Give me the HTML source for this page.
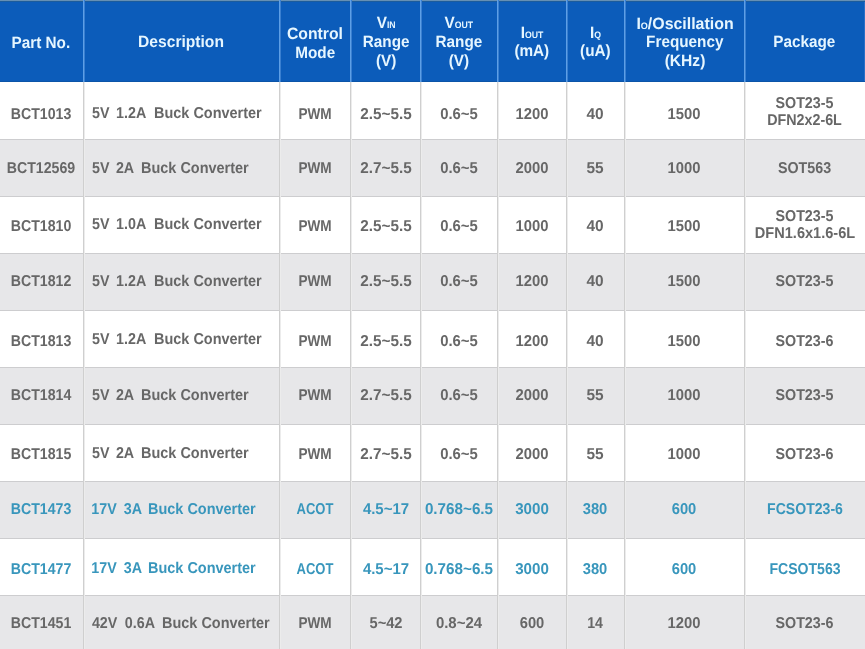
<!DOCTYPE html>
<html><head><meta charset="utf-8"><style>
html,body{margin:0;padding:0;}
body{width:865px;height:649px;overflow:hidden;position:relative;background:#ffffff;font-family:"Liberation Sans",sans-serif;font-weight:bold;}
.a{position:absolute;}
.t{position:absolute;white-space:pre;line-height:1;}
.h{color:#e6f6ff;font-size:15.3px;}
.b{color:#676767;font-size:14.3px;}
.bl{color:#3896bc;}
.sc{font-size:0.57em;}
#w{position:absolute;left:0;top:0;width:865px;height:649px;opacity:0.999;filter:blur(0.3px);text-rendering:geometricPrecision;}
</style></head><body><div id="w">

<div class="a" style="left:0;top:0;width:865px;height:82px;background:#0c5cba"></div>
<div class="a" style="left:0;top:0;width:865px;height:1px;background:#6690b4"></div>
<div class="a" style="left:0;top:1px;width:865px;height:1px;background:#1c5c9c"></div>
<div class="a" style="left:0;top:81px;width:865px;height:1px;background:#0b54a8"></div>
<div class="a" style="left:864px;top:2px;width:1px;height:79px;background:#2a6fc6"></div>
<div class="a" style="left:0;top:140px;width:865px;height:56px;background:#e7e7e9"></div>
<div class="a" style="left:0;top:254px;width:865px;height:56px;background:#e7e7e9"></div>
<div class="a" style="left:0;top:368px;width:865px;height:56px;background:#e7e7e9"></div>
<div class="a" style="left:0;top:482px;width:865px;height:56px;background:#e7e7e9"></div>
<div class="a" style="left:0;top:596px;width:865px;height:53px;background:#e7e7e9"></div>
<div class="a" style="left:0;top:139px;width:865px;height:1px;background:#cdcdcf"></div>
<div class="a" style="left:0;top:196px;width:865px;height:1px;background:#cdcdcf"></div>
<div class="a" style="left:0;top:253px;width:865px;height:1px;background:#cdcdcf"></div>
<div class="a" style="left:0;top:310px;width:865px;height:1px;background:#cdcdcf"></div>
<div class="a" style="left:0;top:367px;width:865px;height:1px;background:#cdcdcf"></div>
<div class="a" style="left:0;top:424px;width:865px;height:1px;background:#cdcdcf"></div>
<div class="a" style="left:0;top:481px;width:865px;height:1px;background:#cdcdcf"></div>
<div class="a" style="left:0;top:538px;width:865px;height:1px;background:#cdcdcf"></div>
<div class="a" style="left:0;top:595px;width:865px;height:1px;background:#cdcdcf"></div>
<div class="a" style="left:83px;top:0px;width:1px;height:82px;background:#5e9fe6"></div>
<div class="a" style="left:84px;top:0px;width:1px;height:82px;background:#3a7fd0"></div>
<div class="a" style="left:83px;top:82px;width:1px;height:567px;background:#cfcfcf"></div>
<div class="a" style="left:84px;top:82px;width:1px;height:567px;background:#ececec"></div>
<div class="a" style="left:279px;top:0px;width:1px;height:82px;background:#5e9fe6"></div>
<div class="a" style="left:280px;top:0px;width:1px;height:82px;background:#3a7fd0"></div>
<div class="a" style="left:279px;top:82px;width:1px;height:567px;background:#cfcfcf"></div>
<div class="a" style="left:280px;top:82px;width:1px;height:567px;background:#ececec"></div>
<div class="a" style="left:350px;top:0px;width:1px;height:82px;background:#5e9fe6"></div>
<div class="a" style="left:351px;top:0px;width:1px;height:82px;background:#3a7fd0"></div>
<div class="a" style="left:350px;top:82px;width:1px;height:567px;background:#cfcfcf"></div>
<div class="a" style="left:351px;top:82px;width:1px;height:567px;background:#ececec"></div>
<div class="a" style="left:420px;top:0px;width:1px;height:82px;background:#5e9fe6"></div>
<div class="a" style="left:421px;top:0px;width:1px;height:82px;background:#3a7fd0"></div>
<div class="a" style="left:420px;top:82px;width:1px;height:567px;background:#cfcfcf"></div>
<div class="a" style="left:421px;top:82px;width:1px;height:567px;background:#ececec"></div>
<div class="a" style="left:497px;top:0px;width:1px;height:82px;background:#5e9fe6"></div>
<div class="a" style="left:498px;top:0px;width:1px;height:82px;background:#3a7fd0"></div>
<div class="a" style="left:497px;top:82px;width:1px;height:567px;background:#cfcfcf"></div>
<div class="a" style="left:498px;top:82px;width:1px;height:567px;background:#ececec"></div>
<div class="a" style="left:566px;top:0px;width:1px;height:82px;background:#5e9fe6"></div>
<div class="a" style="left:567px;top:0px;width:1px;height:82px;background:#3a7fd0"></div>
<div class="a" style="left:566px;top:82px;width:1px;height:567px;background:#cfcfcf"></div>
<div class="a" style="left:567px;top:82px;width:1px;height:567px;background:#ececec"></div>
<div class="a" style="left:624px;top:0px;width:1px;height:82px;background:#5e9fe6"></div>
<div class="a" style="left:625px;top:0px;width:1px;height:82px;background:#3a7fd0"></div>
<div class="a" style="left:624px;top:82px;width:1px;height:567px;background:#cfcfcf"></div>
<div class="a" style="left:625px;top:82px;width:1px;height:567px;background:#ececec"></div>
<div class="a" style="left:744px;top:0px;width:1px;height:82px;background:#5e9fe6"></div>
<div class="a" style="left:745px;top:0px;width:1px;height:82px;background:#3a7fd0"></div>
<div class="a" style="left:744px;top:82px;width:1px;height:567px;background:#cfcfcf"></div>
<div class="a" style="left:745px;top:82px;width:1px;height:567px;background:#ececec"></div>
<div class="t h" style="left:-109.15px;width:300px;text-align:center;top:36.45px;transform-origin:50% 12.95px;transform:scale(1.0,1.07)">Part No.</div>
<div class="t h" style="left:31.40px;width:300px;text-align:center;top:35.45px;transform-origin:50% 12.95px;transform:scale(1.02,1.07)">Description</div>
<div class="t h" style="left:165.10px;width:300px;text-align:center;top:26.95px;transform-origin:50% 12.95px;transform:scale(1.03,1.07)">Control</div>
<div class="t h" style="left:165.20px;width:300px;text-align:center;top:45.85px;transform-origin:50% 12.95px;transform:scale(1.0,1.07)">Mode</div>
<div class="t h" style="left:236.20px;width:300px;text-align:center;top:16.45px;transform-origin:50% 12.95px;transform:scale(1.0,1.07)">V<span class="sc">IN</span></div>
<div class="t h" style="left:236.20px;width:300px;text-align:center;top:35.15px;transform-origin:50% 12.95px;transform:scale(1.0,1.07)">Range</div>
<div class="t h" style="left:236.20px;width:300px;text-align:center;top:53.95px;transform-origin:50% 12.95px;transform:scale(1.0,1.07)">(V)</div>
<div class="t h" style="left:308.90px;width:300px;text-align:center;top:16.45px;transform-origin:50% 12.95px;transform:scale(1.0,1.07)">V<span class="sc">OUT</span></div>
<div class="t h" style="left:308.90px;width:300px;text-align:center;top:35.15px;transform-origin:50% 12.95px;transform:scale(1.0,1.07)">Range</div>
<div class="t h" style="left:308.90px;width:300px;text-align:center;top:53.95px;transform-origin:50% 12.95px;transform:scale(1.0,1.07)">(V)</div>
<div class="t h" style="left:382.00px;width:300px;text-align:center;top:25.85px;transform-origin:50% 12.95px;transform:scale(1.0,1.07)">I<span class="sc">OUT</span></div>
<div class="t h" style="left:381.80px;width:300px;text-align:center;top:43.75px;transform-origin:50% 12.95px;transform:scale(1.0,1.07)">(mA)</div>
<div class="t h" style="left:445.50px;width:300px;text-align:center;top:25.85px;transform-origin:50% 12.95px;transform:scale(1.0,1.07)">I<span class="sc">Q</span></div>
<div class="t h" style="left:445.40px;width:300px;text-align:center;top:43.75px;transform-origin:50% 12.95px;transform:scale(1.0,1.07)">(uA)</div>
<div class="t h" style="left:534.60px;width:300px;text-align:center;top:17.05px;transform-origin:50% 12.95px;transform:scale(1.04,1.07)">I<span class="sc">O</span>/Oscillation</div>
<div class="t h" style="left:534.80px;width:300px;text-align:center;top:35.05px;transform-origin:50% 12.95px;transform:scale(1.0,1.07)">Frequency</div>
<div class="t h" style="left:534.80px;width:300px;text-align:center;top:54.45px;transform-origin:50% 12.95px;transform:scale(1.02,1.07)">(KHz)</div>
<div class="t h" style="left:654.25px;width:300px;text-align:center;top:35.25px;transform-origin:50% 12.95px;transform:scale(1.0,1.07)">Package</div>
<div class="t b" style="left:-109.00px;width:300px;text-align:center;top:108.40px;transform-origin:50% 12.10px;transform:scale(0.99,1.098)">BCT1013</div>
<div class="t b" style="left:92.00px;top:107.20px;transform-origin:0 12.10px;transform:scale(1.0,1.098)">5V</div>
<div class="t b" style="left:116.10px;top:107.20px;transform-origin:0 12.10px;transform:scale(1.0,1.098)">1.2A</div>
<div class="t b" style="left:153.80px;top:107.20px;transform-origin:0 12.10px;transform:scale(1.012,1.098)">Buck Converter</div>
<div class="t b" style="left:164.75px;width:300px;text-align:center;top:108.40px;transform-origin:50% 12.10px;transform:scale(0.95,1.098)">PWM</div>
<div class="t b" style="left:236.45px;width:300px;text-align:center;top:108.40px;transform-origin:50% 12.10px;transform:scale(1.068,1.098)">2.5~5.5</div>
<div class="t b" style="left:309.25px;width:300px;text-align:center;top:108.40px;transform-origin:50% 12.10px;transform:scale(1.04,1.098)">0.6~5</div>
<div class="t b" style="left:382.00px;width:300px;text-align:center;top:108.40px;transform-origin:50% 12.10px;transform:scale(1.037,1.098)">1200</div>
<div class="t b" style="left:445.00px;width:300px;text-align:center;top:108.40px;transform-origin:50% 12.10px;transform:scale(1.08,1.098)">40</div>
<div class="t b" style="left:534.00px;width:300px;text-align:center;top:108.40px;transform-origin:50% 12.10px;transform:scale(1.037,1.098)">1500</div>
<div class="t b" style="left:654.50px;width:300px;text-align:center;top:96.80px;transform-origin:50% 12.10px;transform:scale(1.0,1.098)">SOT23-5</div>
<div class="t b" style="left:654.50px;width:300px;text-align:center;top:113.80px;transform-origin:50% 12.10px;transform:scale(1.0,1.098)">DFN2x2-6L</div>
<div class="t b" style="left:-109.00px;width:300px;text-align:center;top:161.90px;transform-origin:50% 12.10px;transform:scale(0.99,1.098)">BCT12569</div>
<div class="t b" style="left:92.00px;top:161.90px;transform-origin:0 12.10px;transform:scale(1.0,1.098)">5V</div>
<div class="t b" style="left:115.90px;top:161.90px;transform-origin:0 12.10px;transform:scale(1.0,1.098)">2A</div>
<div class="t b" style="left:140.60px;top:161.90px;transform-origin:0 12.10px;transform:scale(1.012,1.098)">Buck Converter</div>
<div class="t b" style="left:164.75px;width:300px;text-align:center;top:161.90px;transform-origin:50% 12.10px;transform:scale(0.95,1.098)">PWM</div>
<div class="t b" style="left:236.45px;width:300px;text-align:center;top:161.90px;transform-origin:50% 12.10px;transform:scale(1.068,1.098)">2.7~5.5</div>
<div class="t b" style="left:309.25px;width:300px;text-align:center;top:161.90px;transform-origin:50% 12.10px;transform:scale(1.04,1.098)">0.6~5</div>
<div class="t b" style="left:382.00px;width:300px;text-align:center;top:161.90px;transform-origin:50% 12.10px;transform:scale(1.037,1.098)">2000</div>
<div class="t b" style="left:445.00px;width:300px;text-align:center;top:161.90px;transform-origin:50% 12.10px;transform:scale(1.08,1.098)">55</div>
<div class="t b" style="left:534.00px;width:300px;text-align:center;top:161.90px;transform-origin:50% 12.10px;transform:scale(1.037,1.098)">1000</div>
<div class="t b" style="left:654.50px;width:300px;text-align:center;top:161.90px;transform-origin:50% 12.10px;transform:scale(1.0,1.098)">SOT563</div>
<div class="t b" style="left:-109.00px;width:300px;text-align:center;top:219.60px;transform-origin:50% 12.10px;transform:scale(0.99,1.098)">BCT1810</div>
<div class="t b" style="left:92.00px;top:218.40px;transform-origin:0 12.10px;transform:scale(1.0,1.098)">5V</div>
<div class="t b" style="left:116.10px;top:218.40px;transform-origin:0 12.10px;transform:scale(1.0,1.098)">1.0A</div>
<div class="t b" style="left:153.80px;top:218.40px;transform-origin:0 12.10px;transform:scale(1.012,1.098)">Buck Converter</div>
<div class="t b" style="left:164.75px;width:300px;text-align:center;top:219.60px;transform-origin:50% 12.10px;transform:scale(0.95,1.098)">PWM</div>
<div class="t b" style="left:236.45px;width:300px;text-align:center;top:219.60px;transform-origin:50% 12.10px;transform:scale(1.068,1.098)">2.5~5.5</div>
<div class="t b" style="left:309.25px;width:300px;text-align:center;top:219.60px;transform-origin:50% 12.10px;transform:scale(1.04,1.098)">0.6~5</div>
<div class="t b" style="left:382.00px;width:300px;text-align:center;top:219.60px;transform-origin:50% 12.10px;transform:scale(1.037,1.098)">1000</div>
<div class="t b" style="left:445.00px;width:300px;text-align:center;top:219.60px;transform-origin:50% 12.10px;transform:scale(1.08,1.098)">40</div>
<div class="t b" style="left:534.00px;width:300px;text-align:center;top:219.60px;transform-origin:50% 12.10px;transform:scale(1.037,1.098)">1500</div>
<div class="t b" style="left:654.50px;width:300px;text-align:center;top:210.40px;transform-origin:50% 12.10px;transform:scale(1.0,1.098)">SOT23-5</div>
<div class="t b" style="left:654.50px;width:300px;text-align:center;top:227.40px;transform-origin:50% 12.10px;transform:scale(1.02,1.098)">DFN1.6x1.6-6L</div>
<div class="t b" style="left:-109.00px;width:300px;text-align:center;top:274.80px;transform-origin:50% 12.10px;transform:scale(0.99,1.098)">BCT1812</div>
<div class="t b" style="left:92.00px;top:274.80px;transform-origin:0 12.10px;transform:scale(1.0,1.098)">5V</div>
<div class="t b" style="left:116.10px;top:274.80px;transform-origin:0 12.10px;transform:scale(1.0,1.098)">1.2A</div>
<div class="t b" style="left:153.80px;top:274.80px;transform-origin:0 12.10px;transform:scale(1.012,1.098)">Buck Converter</div>
<div class="t b" style="left:164.75px;width:300px;text-align:center;top:274.80px;transform-origin:50% 12.10px;transform:scale(0.95,1.098)">PWM</div>
<div class="t b" style="left:236.45px;width:300px;text-align:center;top:274.80px;transform-origin:50% 12.10px;transform:scale(1.068,1.098)">2.5~5.5</div>
<div class="t b" style="left:309.25px;width:300px;text-align:center;top:274.80px;transform-origin:50% 12.10px;transform:scale(1.04,1.098)">0.6~5</div>
<div class="t b" style="left:382.00px;width:300px;text-align:center;top:274.80px;transform-origin:50% 12.10px;transform:scale(1.037,1.098)">1200</div>
<div class="t b" style="left:445.00px;width:300px;text-align:center;top:274.80px;transform-origin:50% 12.10px;transform:scale(1.08,1.098)">40</div>
<div class="t b" style="left:534.00px;width:300px;text-align:center;top:274.80px;transform-origin:50% 12.10px;transform:scale(1.037,1.098)">1500</div>
<div class="t b" style="left:654.50px;width:300px;text-align:center;top:274.80px;transform-origin:50% 12.10px;transform:scale(1.0,1.098)">SOT23-5</div>
<div class="t b" style="left:-109.00px;width:300px;text-align:center;top:334.60px;transform-origin:50% 12.10px;transform:scale(0.99,1.098)">BCT1813</div>
<div class="t b" style="left:92.00px;top:333.40px;transform-origin:0 12.10px;transform:scale(1.0,1.098)">5V</div>
<div class="t b" style="left:116.10px;top:333.40px;transform-origin:0 12.10px;transform:scale(1.0,1.098)">1.2A</div>
<div class="t b" style="left:153.80px;top:333.40px;transform-origin:0 12.10px;transform:scale(1.012,1.098)">Buck Converter</div>
<div class="t b" style="left:164.75px;width:300px;text-align:center;top:334.60px;transform-origin:50% 12.10px;transform:scale(0.95,1.098)">PWM</div>
<div class="t b" style="left:236.45px;width:300px;text-align:center;top:334.60px;transform-origin:50% 12.10px;transform:scale(1.068,1.098)">2.5~5.5</div>
<div class="t b" style="left:309.25px;width:300px;text-align:center;top:334.60px;transform-origin:50% 12.10px;transform:scale(1.04,1.098)">0.6~5</div>
<div class="t b" style="left:382.00px;width:300px;text-align:center;top:334.60px;transform-origin:50% 12.10px;transform:scale(1.037,1.098)">1200</div>
<div class="t b" style="left:445.00px;width:300px;text-align:center;top:334.60px;transform-origin:50% 12.10px;transform:scale(1.08,1.098)">40</div>
<div class="t b" style="left:534.00px;width:300px;text-align:center;top:334.60px;transform-origin:50% 12.10px;transform:scale(1.037,1.098)">1500</div>
<div class="t b" style="left:654.50px;width:300px;text-align:center;top:334.60px;transform-origin:50% 12.10px;transform:scale(1.0,1.098)">SOT23-6</div>
<div class="t b" style="left:-109.00px;width:300px;text-align:center;top:388.80px;transform-origin:50% 12.10px;transform:scale(0.99,1.098)">BCT1814</div>
<div class="t b" style="left:92.00px;top:388.80px;transform-origin:0 12.10px;transform:scale(1.0,1.098)">5V</div>
<div class="t b" style="left:115.90px;top:388.80px;transform-origin:0 12.10px;transform:scale(1.0,1.098)">2A</div>
<div class="t b" style="left:140.60px;top:388.80px;transform-origin:0 12.10px;transform:scale(1.012,1.098)">Buck Converter</div>
<div class="t b" style="left:164.75px;width:300px;text-align:center;top:388.80px;transform-origin:50% 12.10px;transform:scale(0.95,1.098)">PWM</div>
<div class="t b" style="left:236.45px;width:300px;text-align:center;top:388.80px;transform-origin:50% 12.10px;transform:scale(1.068,1.098)">2.7~5.5</div>
<div class="t b" style="left:309.25px;width:300px;text-align:center;top:388.80px;transform-origin:50% 12.10px;transform:scale(1.04,1.098)">0.6~5</div>
<div class="t b" style="left:382.00px;width:300px;text-align:center;top:388.80px;transform-origin:50% 12.10px;transform:scale(1.037,1.098)">2000</div>
<div class="t b" style="left:445.00px;width:300px;text-align:center;top:388.80px;transform-origin:50% 12.10px;transform:scale(1.08,1.098)">55</div>
<div class="t b" style="left:534.00px;width:300px;text-align:center;top:388.80px;transform-origin:50% 12.10px;transform:scale(1.037,1.098)">1000</div>
<div class="t b" style="left:654.50px;width:300px;text-align:center;top:388.80px;transform-origin:50% 12.10px;transform:scale(1.0,1.098)">SOT23-5</div>
<div class="t b" style="left:-109.00px;width:300px;text-align:center;top:448.10px;transform-origin:50% 12.10px;transform:scale(0.99,1.098)">BCT1815</div>
<div class="t b" style="left:92.00px;top:446.90px;transform-origin:0 12.10px;transform:scale(1.0,1.098)">5V</div>
<div class="t b" style="left:115.90px;top:446.90px;transform-origin:0 12.10px;transform:scale(1.0,1.098)">2A</div>
<div class="t b" style="left:140.60px;top:446.90px;transform-origin:0 12.10px;transform:scale(1.012,1.098)">Buck Converter</div>
<div class="t b" style="left:164.75px;width:300px;text-align:center;top:448.10px;transform-origin:50% 12.10px;transform:scale(0.95,1.098)">PWM</div>
<div class="t b" style="left:236.45px;width:300px;text-align:center;top:448.10px;transform-origin:50% 12.10px;transform:scale(1.068,1.098)">2.7~5.5</div>
<div class="t b" style="left:309.25px;width:300px;text-align:center;top:448.10px;transform-origin:50% 12.10px;transform:scale(1.04,1.098)">0.6~5</div>
<div class="t b" style="left:382.00px;width:300px;text-align:center;top:448.10px;transform-origin:50% 12.10px;transform:scale(1.037,1.098)">2000</div>
<div class="t b" style="left:445.00px;width:300px;text-align:center;top:448.10px;transform-origin:50% 12.10px;transform:scale(1.08,1.098)">55</div>
<div class="t b" style="left:534.00px;width:300px;text-align:center;top:448.10px;transform-origin:50% 12.10px;transform:scale(1.037,1.098)">1000</div>
<div class="t b" style="left:654.50px;width:300px;text-align:center;top:448.10px;transform-origin:50% 12.10px;transform:scale(1.0,1.098)">SOT23-6</div>
<div class="t b bl" style="left:-109.00px;width:300px;text-align:center;top:502.60px;transform-origin:50% 12.10px;transform:scale(0.99,1.098)">BCT1473</div>
<div class="t b bl" style="left:91.30px;top:502.60px;transform-origin:0 12.10px;transform:scale(1.0,1.098)">17V</div>
<div class="t b bl" style="left:123.70px;top:502.60px;transform-origin:0 12.10px;transform:scale(1.0,1.098)">3A</div>
<div class="t b bl" style="left:148.30px;top:502.60px;transform-origin:0 12.10px;transform:scale(1.012,1.098)">Buck Converter</div>
<div class="t b bl" style="left:164.75px;width:300px;text-align:center;top:502.60px;transform-origin:50% 12.10px;transform:scale(0.91,1.098)">ACOT</div>
<div class="t b bl" style="left:236.45px;width:300px;text-align:center;top:502.60px;transform-origin:50% 12.10px;transform:scale(1.047,1.098)">4.5~17</div>
<div class="t b bl" style="left:309.25px;width:300px;text-align:center;top:502.60px;transform-origin:50% 12.10px;transform:scale(1.065,1.098)">0.768~6.5</div>
<div class="t b bl" style="left:382.00px;width:300px;text-align:center;top:502.60px;transform-origin:50% 12.10px;transform:scale(1.06,1.098)">3000</div>
<div class="t b bl" style="left:445.00px;width:300px;text-align:center;top:502.60px;transform-origin:50% 12.10px;transform:scale(1.03,1.098)">380</div>
<div class="t b bl" style="left:534.00px;width:300px;text-align:center;top:502.60px;transform-origin:50% 12.10px;transform:scale(1.03,1.098)">600</div>
<div class="t b bl" style="left:654.50px;width:300px;text-align:center;top:502.60px;transform-origin:50% 12.10px;transform:scale(0.985,1.098)">FCSOT23-6</div>
<div class="t b bl" style="left:-109.00px;width:300px;text-align:center;top:562.80px;transform-origin:50% 12.10px;transform:scale(0.99,1.098)">BCT1477</div>
<div class="t b bl" style="left:91.30px;top:561.60px;transform-origin:0 12.10px;transform:scale(1.0,1.098)">17V</div>
<div class="t b bl" style="left:123.70px;top:561.60px;transform-origin:0 12.10px;transform:scale(1.0,1.098)">3A</div>
<div class="t b bl" style="left:148.30px;top:561.60px;transform-origin:0 12.10px;transform:scale(1.012,1.098)">Buck Converter</div>
<div class="t b bl" style="left:164.75px;width:300px;text-align:center;top:562.80px;transform-origin:50% 12.10px;transform:scale(0.91,1.098)">ACOT</div>
<div class="t b bl" style="left:236.45px;width:300px;text-align:center;top:562.80px;transform-origin:50% 12.10px;transform:scale(1.047,1.098)">4.5~17</div>
<div class="t b bl" style="left:309.25px;width:300px;text-align:center;top:562.80px;transform-origin:50% 12.10px;transform:scale(1.065,1.098)">0.768~6.5</div>
<div class="t b bl" style="left:382.00px;width:300px;text-align:center;top:562.80px;transform-origin:50% 12.10px;transform:scale(1.06,1.098)">3000</div>
<div class="t b bl" style="left:445.00px;width:300px;text-align:center;top:562.80px;transform-origin:50% 12.10px;transform:scale(1.03,1.098)">380</div>
<div class="t b bl" style="left:534.00px;width:300px;text-align:center;top:562.80px;transform-origin:50% 12.10px;transform:scale(1.03,1.098)">600</div>
<div class="t b bl" style="left:654.50px;width:300px;text-align:center;top:562.80px;transform-origin:50% 12.10px;transform:scale(0.985,1.098)">FCSOT563</div>
<div class="t b" style="left:-109.00px;width:300px;text-align:center;top:616.90px;transform-origin:50% 12.10px;transform:scale(0.99,1.098)">BCT1451</div>
<div class="t b" style="left:91.90px;top:616.90px;transform-origin:0 12.10px;transform:scale(1.0,1.098)">42V</div>
<div class="t b" style="left:124.80px;top:616.90px;transform-origin:0 12.10px;transform:scale(1.0,1.098)">0.6A</div>
<div class="t b" style="left:162.20px;top:616.90px;transform-origin:0 12.10px;transform:scale(1.012,1.098)">Buck Converter</div>
<div class="t b" style="left:164.75px;width:300px;text-align:center;top:616.90px;transform-origin:50% 12.10px;transform:scale(0.95,1.098)">PWM</div>
<div class="t b" style="left:236.45px;width:300px;text-align:center;top:616.90px;transform-origin:50% 12.10px;transform:scale(1.025,1.098)">5~42</div>
<div class="t b" style="left:309.25px;width:300px;text-align:center;top:616.90px;transform-origin:50% 12.10px;transform:scale(1.047,1.098)">0.8~24</div>
<div class="t b" style="left:382.00px;width:300px;text-align:center;top:616.90px;transform-origin:50% 12.10px;transform:scale(1.03,1.098)">600</div>
<div class="t b" style="left:445.00px;width:300px;text-align:center;top:616.90px;transform-origin:50% 12.10px;transform:scale(0.99,1.098)">14</div>
<div class="t b" style="left:534.00px;width:300px;text-align:center;top:616.90px;transform-origin:50% 12.10px;transform:scale(1.037,1.098)">1200</div>
<div class="t b" style="left:654.50px;width:300px;text-align:center;top:616.90px;transform-origin:50% 12.10px;transform:scale(1.0,1.098)">SOT23-6</div>
</div></body></html>
